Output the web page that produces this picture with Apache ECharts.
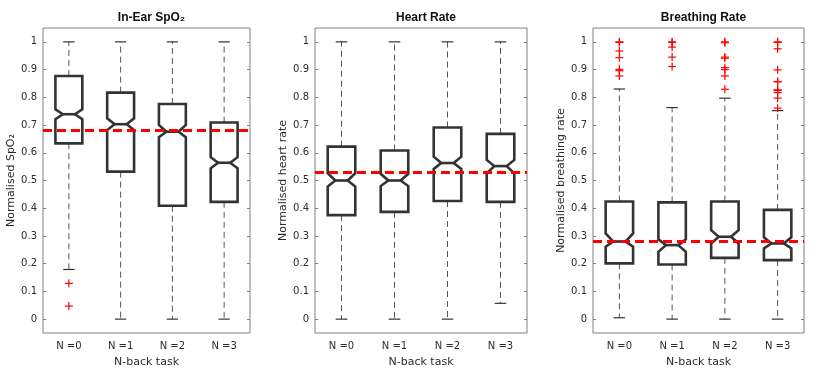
<!DOCTYPE html>
<html>
<head>
<meta charset="utf-8">
<script src="https://cdn.jsdelivr.net/npm/echarts@6/dist/echarts.min.js"></script>
<style>
  html, body { margin: 0; padding: 0; background: #fff; }
  #main { width: 830px; height: 374px; }
</style>
</head>
<body>
<div id="main"></div>
<script>
// categories and tick labels
var categories = ['N =0', 'N =1', 'N =2', 'N =3'];
var yTicks = [0, 0.1, 0.2, 0.3, 0.4, 0.5, 0.6, 0.7, 0.8, 0.9, 1];
var titles = ['In-Ear SpO\u2082', 'Heart Rate', 'Breathing Rate'];
var yNames = ['Normalised SpO\u2082', 'Normalised heart rate', 'Normalised breathing rate'];

// box stats, one array per statistic, one row per panel
var whiskerLow  = [[0.179, 0, 0, 0], [0, 0, 0, 0.057], [0.005, 0, 0, 0]];
var q1          = [[0.634, 0.532, 0.409, 0.423], [0.375, 0.387, 0.426, 0.423], [0.201, 0.197, 0.221, 0.213]];
var medians     = [[0.739, 0.703, 0.676, 0.564], [0.500, 0.500, 0.563, 0.552], [0.280, 0.267, 0.297, 0.273]];
var q3          = [[0.877, 0.817, 0.776, 0.709], [0.622, 0.608, 0.691, 0.668], [0.424, 0.421, 0.424, 0.394]];
var whiskerHigh = [[1, 1, 1, 1], [1, 1, 1, 1], [0.830, 0.763, 0.797, 0.752]];
var notchLow    = [[0.721, 0.682, 0.656, 0.544], [0.478, 0.480, 0.542, 0.526], [0.261, 0.243, 0.273, 0.255]];
var notchHigh   = [[0.757, 0.724, 0.700, 0.584], [0.526, 0.524, 0.586, 0.574], [0.309, 0.288, 0.321, 0.295]];

// mean reference lines
var meanLine = [0.676, 0.525, 0.280];

// outliers: [category index, value]
var outliers0 = [[0, 0.129], [0, 0.047]];
var outliers1 = [];
var outliers2 = [
  [0, 1.0], [0, 0.998], [0, 0.967], [0, 0.943], [0, 0.901], [0, 0.896], [0, 0.877],
  [1, 1.0], [1, 0.998], [1, 0.981], [1, 0.945], [1, 0.911],
  [2, 1.0], [2, 0.997], [2, 0.945], [2, 0.941], [2, 0.907], [2, 0.900], [2, 0.877], [2, 0.829],
  [3, 1.0], [3, 0.998], [3, 0.975], [3, 0.899], [3, 0.857], [3, 0.856], [3, 0.827], [3, 0.825], [3, 0.817], [3, 0.797], [3, 0.761]
];
var outliers = [outliers0, outliers1, outliers2];

var grids = [
  { left: 43, top: 28, width: 207, height: 305 },
  { left: 315, top: 28, width: 212, height: 305 },
  { left: 593, top: 28, width: 211, height: 305 }
];

var boxColor = '#333333';
var axisColor = '#808080';
var textColor = '#2b2b2b';

function renderBox(params, api) {
  var x = api.value(0);
  var band = api.size([1, 0])[0];
  var hw = band * 0.26;
  var nw = hw * 0.45;
  var cw = hw * 0.42;
  var pLow = api.coord([x, api.value(1)]);
  var pQ1 = api.coord([x, api.value(2)]);
  var pMed = api.coord([x, api.value(3)]);
  var pQ3 = api.coord([x, api.value(4)]);
  var pHigh = api.coord([x, api.value(5)]);
  var pNLo = api.coord([x, api.value(6)]);
  var pNHi = api.coord([x, api.value(7)]);
  var cx = pMed[0];
  var dashStyle = { stroke: '#555', lineWidth: 1, lineDash: [6, 4] };
  var capStyle = { stroke: boxColor, lineWidth: 1.2 };
  return {
    type: 'group',
    children: [
      { type: 'line', shape: { x1: cx, y1: pQ3[1], x2: cx, y2: pHigh[1] }, style: dashStyle },
      { type: 'line', shape: { x1: cx, y1: pQ1[1], x2: cx, y2: pLow[1] }, style: dashStyle },
      { type: 'line', shape: { x1: cx - cw, y1: pHigh[1], x2: cx + cw, y2: pHigh[1] }, style: capStyle },
      { type: 'line', shape: { x1: cx - cw, y1: pLow[1], x2: cx + cw, y2: pLow[1] }, style: capStyle },
      {
        type: 'polygon',
        shape: {
          points: [
            [cx - hw, pQ3[1]], [cx + hw, pQ3[1]], [cx + hw, pNHi[1]], [cx + nw, pMed[1]],
            [cx + hw, pNLo[1]], [cx + hw, pQ1[1]], [cx - hw, pQ1[1]], [cx - hw, pNLo[1]],
            [cx - nw, pMed[1]], [cx - hw, pNHi[1]]
          ]
        },
        style: { fill: '#fff', stroke: boxColor, lineWidth: 2.6, lineJoin: 'miter' }
      },
      { type: 'line', shape: { x1: cx - nw, y1: pMed[1], x2: cx + nw, y2: pMed[1] }, style: { stroke: boxColor, lineWidth: 2.6 } }
    ]
  };
}

function renderPlus(params, api) {
  var p = api.coord([api.value(0), api.value(1)]);
  var s = 4;
  var st = { stroke: '#ff0000', lineWidth: 1.2 };
  return {
    type: 'group',
    children: [
      { type: 'line', shape: { x1: p[0] - s, y1: p[1], x2: p[0] + s, y2: p[1] }, style: st },
      { type: 'line', shape: { x1: p[0], y1: p[1] - s, x2: p[0], y2: p[1] + s }, style: st }
    ]
  };
}

var xAxes = [], yAxes = [], series = [], titleList = [];
for (var i = 0; i < 3; i++) {
  var g = grids[i];
  titleList.push({
    text: titles[i],
    left: g.left + g.width / 2,
    top: 7,
    textAlign: 'center',
    textStyle: { fontFamily: 'Liberation Sans', fontWeight: 'bold', fontSize: 12, color: '#111' }
  });
  xAxes.push({
    type: 'category', gridIndex: i, data: categories, position: 'bottom',
    name: 'N-back task', nameLocation: 'middle', nameGap: 24,
    nameTextStyle: { fontFamily: 'DejaVu Sans', fontSize: 11, color: textColor },
    axisLine: { show: false },
    axisTick: { inside: true, alignWithLabel: true, length: 3, lineStyle: { color: axisColor } },
    axisLabel: { fontFamily: 'DejaVu Sans', fontSize: 10, color: textColor, margin: 8 }
  });
  xAxes.push({
    type: 'category', gridIndex: i, data: categories, position: 'top',
    axisLine: { show: false },
    axisTick: { inside: true, alignWithLabel: true, length: 3, lineStyle: { color: axisColor } },
    axisLabel: { show: false }
  });
  yAxes.push({
    type: 'value', gridIndex: i, min: -0.05, max: 1.05, position: 'left',
    name: yNames[i], nameLocation: 'middle', nameGap: 26,
    nameTextStyle: { fontFamily: 'DejaVu Sans', fontSize: 11, color: textColor },
    axisLine: { show: false },
    splitLine: { show: false },
    axisTick: { show: true, inside: true, length: 3, customValues: yTicks, lineStyle: { color: axisColor } },
    axisLabel: { fontFamily: 'DejaVu Sans', fontSize: 10, color: textColor, margin: 6, customValues: yTicks }
  });
  yAxes.push({
    type: 'value', gridIndex: i, min: -0.05, max: 1.05, position: 'right',
    axisLine: { show: false },
    splitLine: { show: false },
    axisTick: { show: true, inside: true, length: 3, customValues: yTicks, lineStyle: { color: axisColor } },
    axisLabel: { show: false, customValues: yTicks }
  });

  var boxData = categories.map(function (c, k) {
    return [k, whiskerLow[i][k], q1[i][k], medians[i][k], q3[i][k], whiskerHigh[i][k], notchLow[i][k], notchHigh[i][k]];
  });
  series.push({
    type: 'custom', xAxisIndex: 2 * i, yAxisIndex: 2 * i,
    renderItem: renderBox, data: boxData, silent: true,
    encode: { x: 0, y: [1, 2, 3, 4, 5] },
    markLine: {
      silent: true, symbol: 'none', z: 10,
      label: { show: false },
      lineStyle: { color: '#ff0000', type: [9, 5], width: 3 },
      data: [{ yAxis: meanLine[i] }]
    }
  });
  series.push({
    type: 'custom', xAxisIndex: 2 * i, yAxisIndex: 2 * i,
    renderItem: renderPlus, data: outliers[i], silent: true,
    encode: { x: 0, y: 1 }, z: 5
  });
}

var myChart = echarts.init(document.getElementById('main'));
myChart.setOption({
  animation: false,
  backgroundColor: '#fff',
  title: titleList,
  grid: grids.map(function (g) {
    return { left: g.left, top: g.top, width: g.width, height: g.height, show: true, borderColor: axisColor, borderWidth: 1, backgroundColor: 'transparent' };
  }),
  xAxis: xAxes,
  yAxis: yAxes,
  series: series
});
</script>
</body>
</html>
